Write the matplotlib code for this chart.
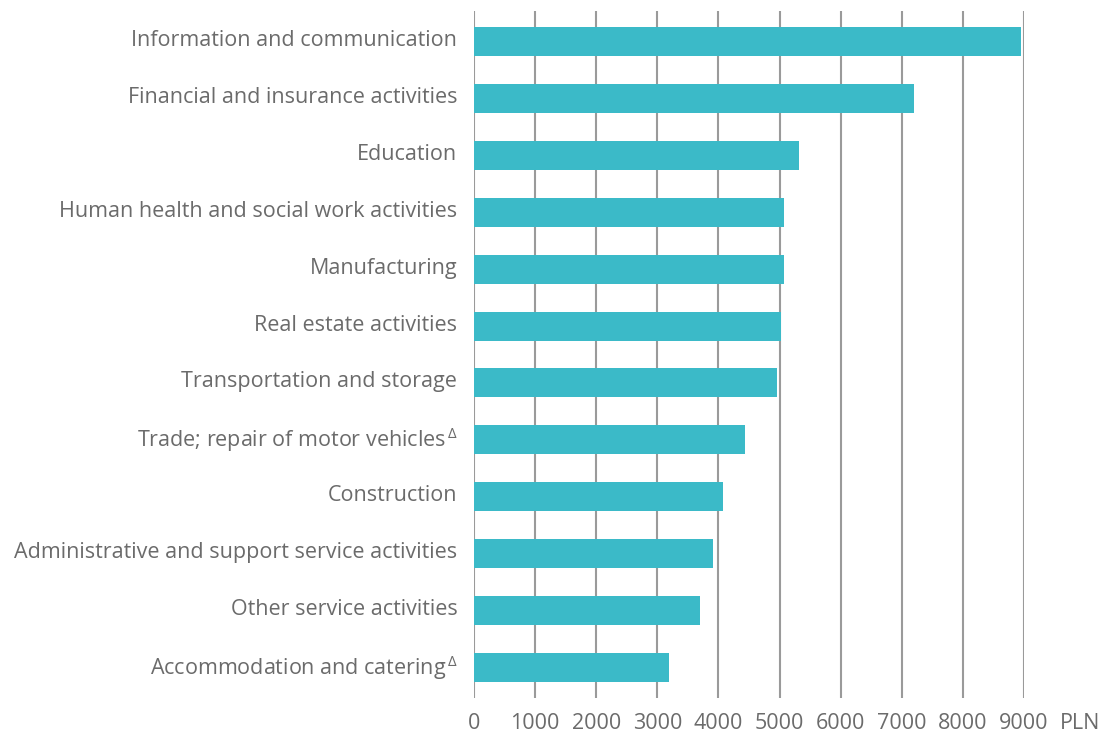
import matplotlib
matplotlib.use("Agg")
import matplotlib.pyplot as plt
import matplotlib.transforms as mtrans

categories = [
    "Information and communication",
    "Financial and insurance activities",
    "Education",
    "Human health and social work activities",
    "Manufacturing",
    "Real estate activities",
    "Transportation and storage",
    "Trade; repair of motor vehicles$^{\\,\\Delta}$",
    "Construction",
    "Administrative and support service activities",
    "Other service activities",
    "Accommodation and catering$^{\\,\\Delta}$",
]
values = [8950, 7200, 5320, 5070, 5070, 5020, 4960, 4430, 4070, 3910, 3700, 3190]
ticks = [0, 1000, 2000, 3000, 4000, 5000, 6000, 7000, 8000, 9000]
tick_labels = [str(t) for t in ticks]
unit = "PLN"

plt.rcParams['font.family'] = ['Open Sans', 'DejaVu Sans']
plt.rcParams['mathtext.fontset'] = 'custom'
plt.rcParams['mathtext.rm'] = 'Open Sans'
plt.rcParams['mathtext.it'] = 'Open Sans'

txt = "#6b6b6b"
fs = 15.5
fig = plt.figure(figsize=(11.04, 7.33), dpi=100)
ax = fig.add_axes([474/1104, 1-698/733, 550/1104, 687/733])

ypos = list(range(len(categories)))
for t in ticks:
    ax.axvline(t, color="#9a9a9a", lw=1.5, zorder=1)
ax.barh(ypos, values, height=0.51, color="#3BBAC8", zorder=2)
ax.set_ylim(len(categories) - 1 + 0.536, -0.536)
ax.set_xlim(0, 9000)
ax.set_yticks(ypos)
ax.set_yticklabels(categories, fontsize=fs, color=txt)
ax.set_xticks(ticks)
ax.set_xticklabels(tick_labels, fontsize=fs, color=txt)
ax.tick_params(axis="both", length=0)
ax.tick_params(axis="y", pad=12)
ax.tick_params(axis="x", pad=11)
for s in ax.spines.values():
    s.set_visible(False)
off = mtrans.ScaledTranslation(0, 2.5/72, fig.dpi_scale_trans)
for lab in ax.get_yticklabels():
    lab.set_transform(lab.get_transform() + off)
ax.text(9000, 0, unit, transform=ax.get_xaxis_transform(), ha="left",
        va="top", fontsize=fs, color=txt)
fig.canvas.draw()
lab = ax.get_xticklabels()[-1]
bb = lab.get_window_extent()
for t in ax.texts:
    t.set_transform(None)
    t.set_position((bb.x1 + 11, bb.y0))
    t.set_va("bottom")
fig.savefig("out.png", dpi=100)
